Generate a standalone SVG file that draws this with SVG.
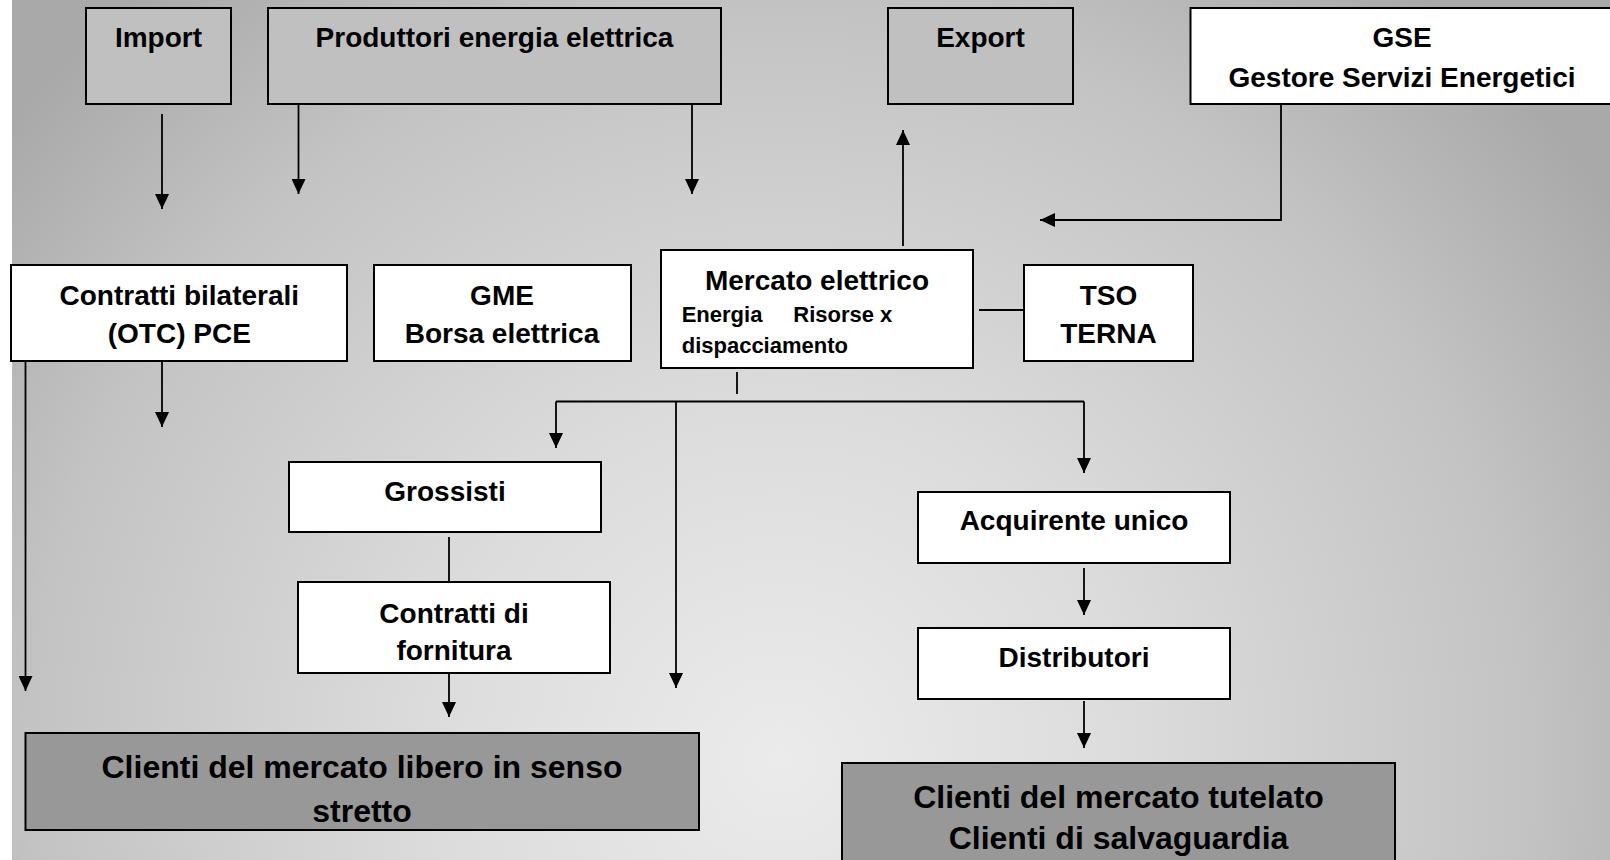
<svg xmlns="http://www.w3.org/2000/svg" width="1610" height="860" viewBox="0 0 1610 860">
<style>
text{font-family:"Liberation Sans",Arial,sans-serif;font-weight:bold;fill:#000;}
.lbl{font-size:28px;text-anchor:middle;}
.sm{font-size:22px;}
.big{font-size:32px;text-anchor:middle;}
.box{stroke:#000;stroke-width:2;}
.w{fill:#fff;}
.g{fill:#c0c0c0;}
.d{fill:#989898;}
.con line,.con polyline{stroke:#000;stroke-width:1.8;fill:none;}
.arr{marker-end:url(#ah);}
</style>
<defs>
<radialGradient id="bg" gradientUnits="userSpaceOnUse" cx="780" cy="760" r="1000">
<stop offset="0" stop-color="#ebebeb"/>
<stop offset="0.35" stop-color="#dcdcdc"/>
<stop offset="0.75" stop-color="#c3c3c3"/>
<stop offset="1" stop-color="#a9a9a9"/>
</radialGradient>
<marker id="ah" markerWidth="15" markerHeight="14" refX="15" refY="7" orient="auto" markerUnits="userSpaceOnUse" viewBox="0 0 15 14">
<path d="M0,0 L15,7 L0,14 Z" fill="#000"/>
</marker>
</defs>
<rect x="0" y="0" width="1610" height="860" fill="url(#bg)"/>
<rect x="0" y="0" width="12" height="860" fill="#fff"/>

<g id="connectors" class="con">
<line class="arr" x1="162" y1="114" x2="162" y2="209"/>
<line class="arr" x1="298.5" y1="99" x2="298.5" y2="194"/>
<line class="arr" x1="692" y1="99" x2="692" y2="194"/>
<line class="arr" x1="903" y1="246" x2="903" y2="130"/>
<polyline class="arr" points="1281,99 1281,220 1040,220"/>
<line x1="979" y1="310" x2="1024" y2="310"/>
<line class="arr" x1="25.5" y1="356" x2="25.5" y2="691"/>
<line class="arr" x1="162" y1="356" x2="162" y2="427"/>
<line x1="737" y1="372" x2="737" y2="394"/>
<line x1="556" y1="401.5" x2="1084" y2="401.5"/>
<line class="arr" x1="556" y1="401.5" x2="556" y2="448"/>
<line class="arr" x1="676" y1="401.5" x2="676" y2="688"/>
<line class="arr" x1="1084" y1="401.5" x2="1084" y2="473"/>
<line x1="449" y1="537" x2="449" y2="582"/>
<line class="arr" x1="449" y1="670" x2="449" y2="717"/>
<line class="arr" x1="1084" y1="568" x2="1084" y2="615"/>
<line class="arr" x1="1084" y1="701" x2="1084" y2="748"/>
</g>

<g id="import">
<rect class="box g" x="86" y="8" width="145" height="96"/>
<text class="lbl" x="158.5" y="47">Import</text>
</g>
<g id="produttori">
<rect class="box g" x="268" y="8" width="453" height="96"/>
<text class="lbl" x="494.5" y="47">Produttori energia elettrica</text>
</g>
<g id="export">
<rect class="box g" x="888" y="8" width="185" height="96"/>
<text class="lbl" x="980.5" y="47">Export</text>
</g>
<g id="gse">
<rect class="box w" x="1190.5" y="8" width="430" height="96"/>
<text class="lbl" x="1402" y="47">GSE</text>
<text class="lbl" x="1402" y="87">Gestore Servizi Energetici</text>
</g>
<g id="contratti-bilaterali">
<rect class="box w" x="11" y="265" width="336" height="96"/>
<text class="lbl" x="179.3" y="305">Contratti bilaterali</text>
<text class="lbl" x="179.3" y="343">(OTC) PCE</text>
</g>
<g id="gme">
<rect class="box w" x="374" y="265" width="257" height="96"/>
<text class="lbl" x="502" y="305">GME</text>
<text class="lbl" x="502" y="343">Borsa elettrica</text>
</g>
<g id="mercato">
<rect class="box w" x="661" y="250" width="312" height="118"/>
<text class="lbl" x="817" y="290">Mercato elettrico</text>
<text class="sm" x="681.7" y="321.7">Energia</text>
<text class="sm" x="793.3" y="321.7">Risorse x</text>
<text class="sm" x="681.7" y="353.3">dispacciamento</text>
</g>
<g id="tso">
<rect class="box w" x="1024" y="265" width="169" height="96"/>
<text class="lbl" x="1108.5" y="305">TSO</text>
<text class="lbl" x="1108.5" y="343">TERNA</text>
</g>
<g id="grossisti">
<rect class="box w" x="289" y="462" width="312" height="70"/>
<text class="lbl" x="445" y="500.7">Grossisti</text>
</g>
<g id="contratti-fornitura">
<rect class="box w" x="298" y="582" width="312" height="91"/>
<text class="lbl" x="454" y="622.7">Contratti di</text>
<text class="lbl" x="454" y="660">fornitura</text>
</g>
<g id="acquirente">
<rect class="box w" x="918" y="492" width="312" height="71"/>
<text class="lbl" x="1074" y="530">Acquirente unico</text>
</g>
<g id="distributori">
<rect class="box w" x="918" y="628" width="312" height="71"/>
<text class="lbl" x="1074" y="667.3">Distributori</text>
</g>
<g id="clienti-libero">
<rect class="box d" x="25.5" y="733" width="673.5" height="97"/>
<text class="big" x="362" y="778.3">Clienti del mercato libero in senso</text>
<text class="big" x="362" y="821.7">stretto</text>
</g>
<g id="clienti-tutelato">
<rect class="box d" x="842" y="763" width="553" height="110"/>
<text class="big" x="1118.5" y="808.3">Clienti del mercato tutelato</text>
<text class="big" x="1118.5" y="849.3">Clienti di salvaguardia</text>
</g>
</svg>
